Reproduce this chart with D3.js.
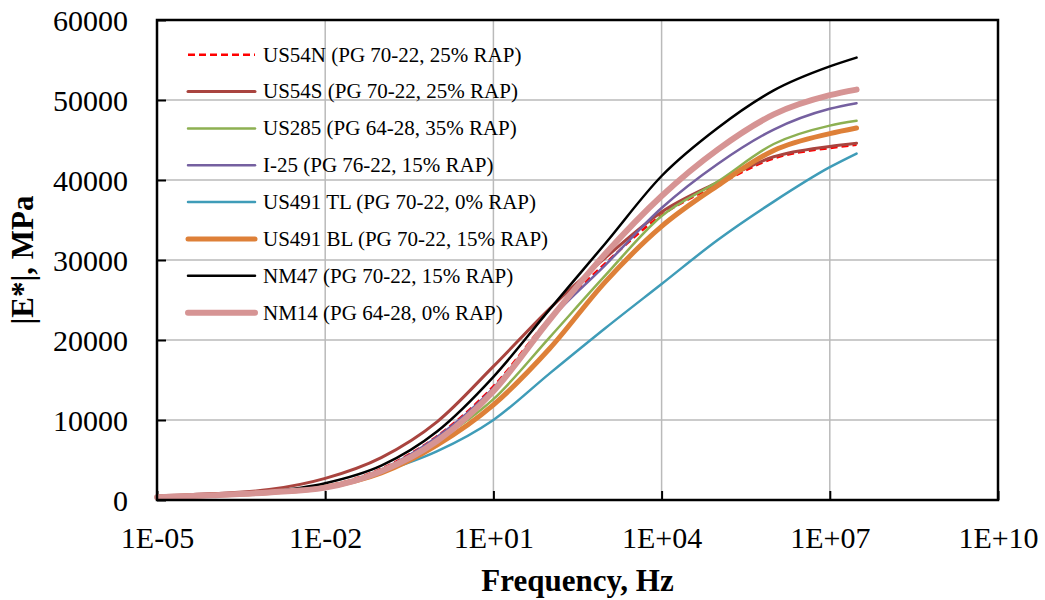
<!DOCTYPE html>
<html>
<head>
<meta charset="utf-8">
<script src="https://cdn.jsdelivr.net/npm/d3@7"></script>
<style>
  html, body { margin: 0; padding: 0; background: #fff; }
  svg { display: block; }
</style>
</head>
<body>
<svg id="chart" width="1045" height="600"></svg>
<script>
// ---- Data ----
const frequencies = [1e-5, 1e-4, 1e-3, 1e-2, 1e-1, 1e0, 1e1, 1e2, 1e3, 1e4, 1e5, 1e6, 1e7, 3e7];

const seriesNames = [
  "US54N (PG 70-22, 25% RAP)",
  "US54S (PG 70-22, 25% RAP)",
  "US285 (PG 64-28, 35% RAP)",
  "I-25 (PG 76-22, 15% RAP)",
  "US491 TL (PG 70-22, 0% RAP)",
  "US491 BL (PG 70-22, 15% RAP)",
  "NM47 (PG 70-22, 15% RAP)",
  "NM14 (PG 64-28, 0% RAP)"
];

const us54n   = [400, 650, 1000, 1700, 3900, 8000, 14200, 22700, 29600, 35600, 39400, 42700, 44000, 44400];
const us54s   = [500, 800, 1300, 2700, 5300, 9800, 16700, 23900, 30300, 36000, 39700, 42900, 44200, 44600];
const us285   = [300, 550, 900, 1600, 3600, 7400, 12600, 20300, 28100, 35500, 39800, 44500, 46800, 47400];
const i25     = [350, 600, 950, 1650, 3800, 7900, 14000, 22500, 29400, 36500, 42000, 46300, 48900, 49600];
const us491tl = [400, 650, 950, 1600, 3500, 6100, 10000, 15800, 21500, 27000, 32500, 37300, 41600, 43300];
const us491bl = [350, 600, 950, 1600, 3400, 6900, 11900, 18900, 27300, 34200, 39300, 43700, 45800, 46500];
const nm47    = [400, 650, 1050, 2100, 4300, 8600, 15400, 23800, 32100, 40500, 46500, 51200, 54200, 55300];
const nm14    = [350, 600, 950, 1550, 3600, 7400, 13600, 22500, 30800, 38000, 43800, 48200, 50600, 51300];

const xTickValues = [1e-5, 1e-2, 1e1, 1e4, 1e7, 1e10];
const xTickLabels = ["1E-05", "1E-02", "1E+01", "1E+04", "1E+07", "1E+10"];
const yTickValues = [0, 10000, 20000, 30000, 40000, 50000, 60000];

const xTitle = "Frequency, Hz";
const yTitle = "|E*|, MPa";

// ---- Styles ----
const seriesValues = [us54n, us54s, us285, i25, us491tl, us491bl, nm47, nm14];
const styles = [
  { color: "#ff0000", width: 2.5, dash: "7,4" },
  { color: "#a9443f", width: 3, dash: null },
  { color: "#8db052", width: 2.5, dash: null },
  { color: "#7560a0", width: 2.5, dash: null },
  { color: "#3f9cb8", width: 2.5, dash: null },
  { color: "#de8038", width: 5, dash: null },
  { color: "#000000", width: 2.5, dash: null },
  { color: "#d69494", width: 6, dash: null }
];

const svg = d3.select("#chart");
const x = d3.scaleLog().domain([1e-5, 1e10]).range([157, 998]);
const y = d3.scaleLinear().domain([0, 60000]).range([500, 20]);

const serif = "'Liberation Serif', 'Times New Roman', serif";

// gridlines
const grid = svg.append("g");
grid.selectAll("line.h").data(yTickValues.slice(1, -1)).join("line")
  .attr("x1", x(1e-5)).attr("x2", x(1e10))
  .attr("y1", d => y(d)).attr("y2", d => y(d))
  .attr("stroke", "#bababa").attr("stroke-width", 1.5);
grid.selectAll("line.v").data(xTickValues.slice(1, -1)).join("line")
  .attr("y1", y(0)).attr("y2", y(60000))
  .attr("x1", d => x(d)).attr("x2", d => x(d))
  .attr("stroke", "#bababa").attr("stroke-width", 1.5);

// axes (ticks inside)
const xAxis = d3.axisBottom(x).tickValues(xTickValues)
  .tickFormat((d, i) => xTickLabels[i]).tickSize(-9).tickPadding(27);
const yAxis = d3.axisLeft(y).tickValues(yTickValues)
  .tickFormat(d => d3.format("d")(d)).tickSize(-9).tickPadding(29);

const gx = svg.append("g").attr("transform", `translate(0,${y(0)})`).call(xAxis);
const gy = svg.append("g").attr("transform", `translate(${x(1e-5)},0)`).call(yAxis);
[gx, gy].forEach(g => {
  g.select(".domain").remove();
  g.selectAll(".tick line").attr("stroke", "#000").attr("stroke-width", 2);
  g.selectAll(".tick text").attr("font-family", serif).attr("font-size", 30).attr("fill", "#000");
});
gy.selectAll(".tick text").attr("dy", "0.34em");
gx.selectAll(".tick text").attr("dy", "0.71em");

// series lines
const line = d3.line()
  .x((d, i) => x(frequencies[i]))
  .y(d => y(d))
  .curve(d3.curveMonotoneX);

const plot = svg.append("g");
seriesValues.forEach((vals, k) => {
  const p = plot.append("path")
    .datum(vals)
    .attr("d", line)
    .attr("fill", "none")
    .attr("stroke", styles[k].color)
    .attr("stroke-width", styles[k].width)
    .attr("stroke-linejoin", "round")
    .attr("stroke-linecap", "round");
  if (styles[k].dash) p.attr("stroke-dasharray", styles[k].dash).attr("stroke-linecap", "butt");
});

// frame
svg.append("rect")
  .attr("x", x(1e-5)).attr("y", y(60000))
  .attr("width", x(1e10) - x(1e-5)).attr("height", y(0) - y(60000))
  .attr("fill", "none").attr("stroke", "#000").attr("stroke-width", 2.5);

// legend
const legend = svg.append("g");
seriesNames.forEach((name, k) => {
  const cy = 54.7 + k * 36.85;
  const l = legend.append("line")
    .attr("x1", 188).attr("x2", 255).attr("y1", cy).attr("y2", cy)
    .attr("stroke", styles[k].color).attr("stroke-width", styles[k].width)
    .attr("stroke-linecap", styles[k].dash ? "butt" : "round");
  if (styles[k].dash) l.attr("stroke-dasharray", styles[k].dash);
  legend.append("text")
    .attr("x", 263).attr("y", cy).attr("dy", "0.33em")
    .attr("font-family", serif).attr("font-size", 21).attr("fill", "#000")
    .text(name);
});

// axis titles
svg.append("text")
  .attr("x", (x(1e-5) + x(1e10)) / 2).attr("y", 591)
  .attr("text-anchor", "middle")
  .attr("font-family", serif).attr("font-size", 31).attr("font-weight", "bold")
  .text(xTitle);
svg.append("text")
  .attr("transform", `translate(33,${(y(0) + y(60000)) / 2}) rotate(-90)`)
  .attr("text-anchor", "middle")
  .attr("font-family", serif).attr("font-size", 31).attr("font-weight", "bold")
  .text(yTitle);
</script>
</body>
</html>
